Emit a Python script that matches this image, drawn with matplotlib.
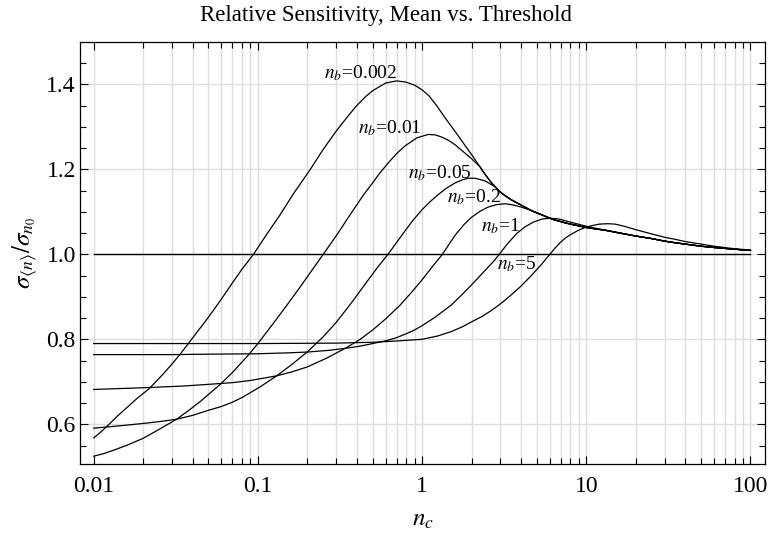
import matplotlib
matplotlib.use('Agg')
import matplotlib.pyplot as plt
from matplotlib.ticker import FixedLocator, NullFormatter

plt.rcParams['font.family'] = ['Liberation Serif', 'DejaVu Serif']
plt.rcParams['mathtext.fontset'] = 'stix'

# values
# common tail that the curves run into at large n_c
env_nc = [2.25, 2.4, 2.6, 2.8, 2.98, 3.2, 3.5, 4.0, 4.73, 5.5, 6.27, 7.6, 10, 13.3, 16, 20,
          25, 30, 35, 40, 50, 60, 80, 100]
env_s = [1.206, 1.190, 1.172, 1.158, 1.147, 1.138, 1.128, 1.116, 1.101, 1.091, 1.082, 1.073,
         1.063, 1.056, 1.050, 1.043, 1.037, 1.031, 1.027, 1.024, 1.019, 1.016, 1.012, 1.009]

# n_b = 0.002
nc_002 = [0.01, 0.0112, 0.0124, 0.014, 0.016, 0.0185, 0.0218, 0.026, 0.03, 0.0336, 0.0377,
          0.043, 0.048, 0.054, 0.06, 0.07, 0.08, 0.094, 0.11, 0.136, 0.165, 0.207, 0.25, 0.3,
          0.35, 0.4, 0.45, 0.5, 0.6, 0.7, 0.8, 0.9, 1.0, 1.1, 1.22, 1.4, 1.63, 1.85, 2.0]
s_002 = [0.568, 0.584, 0.600, 0.620, 0.640, 0.662, 0.684, 0.715, 0.742, 0.765, 0.790,
         0.819, 0.843, 0.870, 0.895, 0.933, 0.965, 1.0, 1.040, 1.092, 1.143, 1.198, 1.247, 1.29,
         1.323, 1.35, 1.370, 1.385, 1.403, 1.408, 1.405, 1.398, 1.387, 1.373, 1.351, 1.318,
         1.283, 1.253, 1.235]

# n_b = 0.01
nc_01 = [0.01, 0.0115, 0.0132, 0.016, 0.02, 0.025, 0.032, 0.038, 0.045, 0.0582, 0.07, 0.0875,
         0.1, 0.12, 0.15, 0.18, 0.2076, 0.25, 0.308, 0.35, 0.39, 0.44, 0.493, 0.55, 0.622, 0.7,
         0.787, 0.93, 1.09, 1.2, 1.315, 1.45, 1.585, 1.8, 2.0]
s_01 = [0.525, 0.531, 0.539, 0.551, 0.567, 0.588, 0.612, 0.633, 0.655, 0.692, 0.722, 0.763,
        0.79, 0.83, 0.88, 0.922, 0.956, 1.0, 1.05, 1.083, 1.11, 1.14, 1.165, 1.19, 1.215, 1.237,
        1.255, 1.274, 1.282, 1.281, 1.276, 1.268, 1.258, 1.24, 1.225]

# n_b = 0.05
nc_05 = [0.01, 0.014, 0.02, 0.026, 0.032, 0.04, 0.05, 0.06, 0.07, 0.08, 0.0896, 0.105, 0.13,
         0.16, 0.198, 0.25, 0.3, 0.37, 0.45, 0.53, 0.62, 0.7, 0.787, 0.88, 1.0, 1.12, 1.25, 1.4,
         1.59, 1.75, 1.91, 2.1, 2.41, 2.7]
s_05 = [0.591, 0.596, 0.602, 0.607, 0.612, 0.621, 0.633, 0.642, 0.652, 0.663, 0.674, 0.69,
        0.714, 0.74, 0.769, 0.806, 0.84, 0.885, 0.93, 0.967, 1.0, 1.028, 1.055, 1.08, 1.105,
        1.124, 1.14, 1.155, 1.168, 1.175, 1.179, 1.179, 1.173, 1.162]

# n_b = 0.2
nc_2 = [0.01, 0.02, 0.035, 0.05, 0.07, 0.0896, 0.13, 0.16, 0.2, 0.26, 0.345, 0.42, 0.5, 0.6,
        0.733, 0.86, 1.0, 1.15, 1.33, 1.45, 1.59, 1.8, 2.0, 2.25, 2.52, 2.85, 3.2, 3.6, 4.02,
        4.4, 4.87]
s_2 = [0.682, 0.686, 0.690, 0.694, 0.698, 0.703, 0.714, 0.723, 0.735, 0.755, 0.78, 0.80,
       0.822, 0.848, 0.88, 0.91, 0.94, 0.97, 1.0, 1.022, 1.045, 1.07, 1.087, 1.101, 1.111,
       1.117, 1.119, 1.116, 1.111, 1.106, 1.100]

# n_b = 1
nc_1 = [0.01, 0.03, 0.05, 0.1, 0.15, 0.2, 0.27, 0.345, 0.42, 0.5, 0.61, 0.7, 0.8, 0.9, 1.0,
        1.2, 1.5, 1.75, 2.0, 2.25, 2.5, 2.75, 2.95, 3.3, 3.77, 4.25, 4.78, 5.4, 6.0, 6.8, 7.6,
        8.7, 10, 11.5, 13.3]
s_1 = [0.764, 0.764, 0.765, 0.766, 0.768, 0.770, 0.774, 0.779, 0.784, 0.790, 0.797, 0.804,
       0.813, 0.822, 0.832, 0.852, 0.88, 0.905, 0.928, 0.949, 0.968, 0.985, 1.0, 1.024, 1.049,
       1.065, 1.076, 1.083, 1.085, 1.083, 1.078, 1.072, 1.066, 1.061, 1.056]

# n_b = 5
nc_5 = [0.01, 0.1, 0.3, 0.5, 0.7, 1.0, 1.25, 1.5, 1.75, 2.0, 2.3, 2.6, 2.9, 3.2, 3.6, 4.0,
        4.6, 5.3, 6.0, 6.5, 7.0, 7.5, 8.0, 9.0, 10, 11, 12, 13.5, 15, 17, 20, 25, 30, 35, 40,
        50, 60, 80, 100]
s_5 = [0.790, 0.790, 0.791, 0.793, 0.796, 0.800, 0.808, 0.818, 0.829, 0.841, 0.853, 0.866,
       0.879, 0.892, 0.909, 0.925, 0.949, 0.975, 1.0, 1.016, 1.029, 1.039, 1.046, 1.057, 1.064,
       1.068, 1.071, 1.072, 1.071, 1.066, 1.058, 1.048, 1.040, 1.035, 1.030, 1.024, 1.019,
       1.013, 1.010]

unity_nc = [0.01, 100]
unity_s = [1.0, 1.0]

labels = ['0.002', '0.01', '0.05', '0.2', '1', '5']
label_nc = [0.425, 0.638, 1.285, 2.07, 3.0, 3.76]
label_s = [1.426, 1.296, 1.19, 1.134, 1.067, 0.977]

xticks = [0.01, 0.1, 1, 10, 100]
xticklabels = ['0.01', '0.1', '1', '10', '100']
yticks = [0.6, 0.8, 1.0, 1.2, 1.4]
yticklabels = ['0.6', '0.8', '1.0', '1.2', '1.4']


def with_tail(xs, ys):
    # curves that join the common tail continue along it
    tx = [x for x in env_nc if x > xs[-1]]
    ty = [y for x, y in zip(env_nc, env_s) if x > xs[-1]]
    return xs + tx, ys + ty


fig = plt.figure(figsize=(7.72, 5.5), dpi=100)
ax = fig.add_axes([80/772, 86/550, 685/772, 422/550])

curves = [with_tail(nc_002, s_002), with_tail(nc_01, s_01), with_tail(nc_05, s_05),
          with_tail(nc_2, s_2), with_tail(nc_1, s_1), (nc_5, s_5)]
for xs, ys in curves:
    ax.plot(xs, ys, color='black', lw=0.9)
ax.plot(unity_nc, unity_s, color='black', lw=1.0)

for lab, x, y in zip(labels, label_nc, label_s):
    ax.text(x, y, r'$n_b$=' + lab, ha='center', va='center', fontsize=14)

ax.set_xscale('log')
ax.set_xlim(0.00825, 122.6)
ax.set_ylim(0.5066, 1.4995)

minor_x = [m * 10.0**e for e in range(-2, 2) for m in range(2, 10)]
ax.xaxis.set_major_locator(FixedLocator(xticks))
ax.xaxis.set_minor_locator(FixedLocator(minor_x))
ax.xaxis.set_minor_formatter(NullFormatter())
ax.set_xticklabels(xticklabels)
ax.set_yticks(yticks)
ax.set_yticklabels(yticklabels)
ax.yaxis.set_minor_locator(FixedLocator([0.55 + 0.05 * i for i in range(19)]))

ax.grid(which='both', axis='x', color='#dcdcdc', lw=1.0)
ax.grid(which='major', axis='y', color='#dcdcdc', lw=1.0)
ax.set_axisbelow(True)

ax.tick_params(which='both', direction='in', top=True, right=True, width=0.8, labelsize=17)
ax.tick_params(which='major', length=6)
ax.tick_params(which='minor', length=4)
ax.tick_params(axis='x', pad=9)
ax.tick_params(axis='y', pad=3)
for sp in ax.spines.values():
    sp.set_linewidth(0.9)

ax.set_xlabel(r'$n_c$', fontsize=18, va='center')
ax.xaxis.set_label_coords(0.5, -56/422)
ax.set_ylabel(r'$\sigma_{\langle n\rangle}/\sigma_{n_0}$', fontsize=18, va='center')
ax.yaxis.set_label_coords(-55/685, 211/422)

fig.text(0.5, 1 - 16/550, 'Relative Sensitivity, Mean vs. Threshold', ha='center', va='center',
         fontsize=16.5)

fig.savefig('out.png', dpi=100)
